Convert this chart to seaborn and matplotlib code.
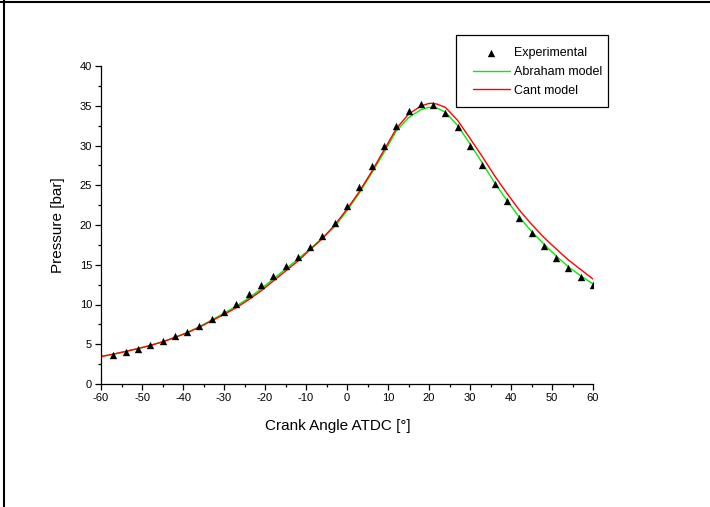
import matplotlib
matplotlib.use("Agg")
import matplotlib.pyplot as plt
from matplotlib.lines import Line2D
from matplotlib.patches import Rectangle
from matplotlib.ticker import MultipleLocator
import seaborn as sns

# ---- data ----
exp_angle = [-57, -54, -51, -48, -45, -42, -39, -36, -33, -30, -27, -24, -21, -18,
             -15, -12, -9, -6, -3, 0, 3, 6, 9, 12, 15, 18, 21, 24, 27, 30, 33,
             36, 39, 42, 45, 48, 51, 54, 57, 60]
exp_pressure = [3.65, 4.06, 4.4, 4.9, 5.37, 6.0, 6.58, 7.33, 8.14, 9.1, 10.06, 11.28,
                12.4, 13.6, 14.8, 16.0, 17.2, 18.6, 20.3, 22.4, 24.8, 27.4, 30.0,
                32.4, 34.3, 35.2, 35.1, 34.05, 32.3, 30.0, 27.5, 25.2, 23.0, 20.9,
                19.0, 17.4, 15.9, 14.6, 13.5, 12.45]

model_angle = [-60, -57, -54, -51, -48, -45, -42, -39, -36, -33, -30, -27, -24, -21,
               -18, -15, -12, -9, -6, -3, 0, 3, 6, 9, 12, 15, 18, 20, 21, 22, 24,
               27, 30, 33, 36, 39, 42, 45, 48, 51, 54, 57, 60]
abraham = [3.45, 3.75, 4.1, 4.45, 4.85, 5.3, 5.85, 6.45, 7.2, 8.05, 8.9, 9.8, 10.8,
           11.95, 13.2, 14.45, 15.7, 17.0, 18.35, 19.8, 21.8, 24.0, 26.5, 29.1, 31.8,
           33.5, 34.5, 34.8, 34.8, 34.7, 34.2, 32.5, 30.2, 27.8, 25.3, 23.1, 21.0,
           19.2, 17.6, 16.1, 14.75, 13.6, 12.6]
cant = [3.45, 3.75, 4.1, 4.45, 4.85, 5.3, 5.85, 6.45, 7.15, 7.95, 8.75, 9.6, 10.6,
        11.7, 12.95, 14.2, 15.45, 16.9, 18.3, 20.0, 22.0, 24.2, 26.7, 29.4, 32.1,
        33.95, 34.95, 35.3, 35.3, 35.2, 34.8, 33.15, 30.9, 28.6, 26.2, 24.0, 21.9,
        20.1, 18.45, 17.0, 15.6, 14.4, 13.2]

x_ticks = [-60, -50, -40, -30, -20, -10, 0, 10, 20, 30, 40, 50, 60]
y_ticks = [0, 5, 10, 15, 20, 25, 30, 35, 40]

# ---- style ----
sns.set_style("ticks")
plt.rcParams["font.family"] = ["Liberation Sans", "DejaVu Sans"]
plt.rcParams["axes.edgecolor"] = "black"
plt.rcParams["xtick.color"] = "black"
plt.rcParams["ytick.color"] = "black"
plt.rcParams["text.color"] = "black"
plt.rcParams["axes.labelcolor"] = "black"

W, H = 710, 507
fig = plt.figure(figsize=(7.1, 5.07), dpi=100)
ax = fig.add_axes([101 / W, 1 - 384 / H, 492 / W, 318 / H])

sns.lineplot(x=model_angle, y=abraham, color="#00ee00", linewidth=1.0, ax=ax,
             label="Abraham model", sort=False, zorder=2)
sns.lineplot(x=model_angle, y=cant, color="#ff0000", linewidth=1.0, ax=ax,
             label="Cant model", sort=False, zorder=2)
sns.scatterplot(x=exp_angle, y=exp_pressure, marker="^", color="black", s=28,
                linewidth=0, ax=ax, label="Experimental", zorder=3)

ax.set_xlim(-60, 60)
ax.set_ylim(0, 40)
ax.set_xticks(x_ticks)
ax.set_yticks(y_ticks)
ax.set_xticklabels([str(t) for t in x_ticks])
ax.set_yticklabels([str(t) for t in y_ticks])
ax.xaxis.set_minor_locator(MultipleLocator(5))
ax.yaxis.set_minor_locator(MultipleLocator(2.5))
ax.tick_params(which="major", direction="out", length=4.5, width=0.9, labelsize=8, pad=2)
ax.tick_params(which="minor", direction="out", length=2.5, width=0.9)
sns.despine(ax=ax)
for s in ("left", "bottom"):
    ax.spines[s].set_linewidth(0.9)

ax.set_xlabel("Crank Angle ATDC [°]", fontsize=11)
ax.set_ylabel("Pressure [bar]", fontsize=11)
ax.xaxis.set_label_coords(0.482, -0.11)
ax.yaxis.set_label_coords(-0.074, 0.5)

handles, labels = ax.get_legend_handles_labels()
order = [labels.index("Experimental"), labels.index("Abraham model"), labels.index("Cant model")]
leg = ax.legend([handles[i] for i in order], [labels[i] for i in order],
                loc="upper left", bbox_to_anchor=(473 / W, 1 - 47 / H),
                bbox_transform=fig.transFigure, frameon=False, fontsize=9,
                handlelength=2.95, borderpad=0, labelspacing=0.55,
                handletextpad=0.32, borderaxespad=0)

# legend frame
fig.add_artist(Rectangle((455.5 / W, 1 - 107 / H), 152 / W, 72 / H,
                         transform=fig.transFigure, facecolor="none",
                         edgecolor="black", linewidth=0.9, zorder=5))

# outer frame lines (left and top)
fig.add_artist(Line2D([3.5 / W, 3.5 / W], [0, 1], transform=fig.transFigure,
                      color="black", linewidth=1.5))
fig.add_artist(Line2D([0, 1], [1 - 2 / H, 1 - 2 / H], transform=fig.transFigure,
                      color="black", linewidth=1.5))

fig.savefig("out.png", dpi=100)
